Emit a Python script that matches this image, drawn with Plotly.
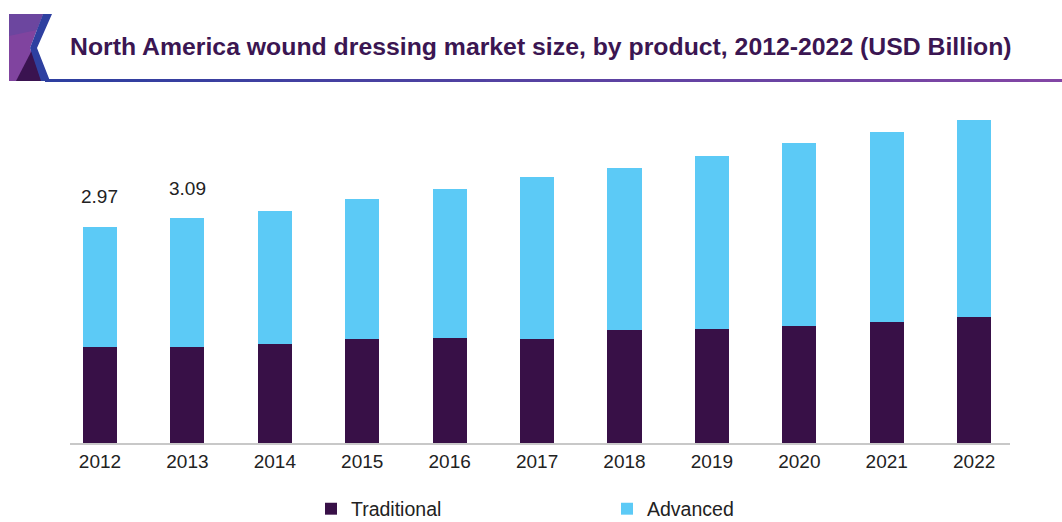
import plotly.graph_objects as go

years = ["2012", "2013", "2014", "2015", "2016", "2017", "2018", "2019", "2020", "2021", "2022"]
traditional = [1.32, 1.32, 1.36, 1.43, 1.44, 1.43, 1.55, 1.57, 1.61, 1.67, 1.73]
advanced = [1.65, 1.77, 1.83, 1.92, 2.05, 2.22, 2.23, 2.38, 2.51, 2.60, 2.71]
label_years = ["2012", "2013"]
label_values = ["2.97", "3.09"]

W, H = 1062, 522
L, R, T, B = 70, 52, 100, 79
PW, PH = W - L - R, H - T - B

def px(x):
    return (x - L) / PW

def py(y):
    return (H - B - y) / PH

TRAD_C = "#381047"
ADV_C = "#5ccaf6"
FONT = "Liberation Sans, Arial, sans-serif"

fig = go.Figure()
fig.add_trace(go.Bar(x=years, y=traditional, name="Traditional", marker_color=TRAD_C,
                     marker_line_width=0, width=0.39))
fig.add_trace(go.Bar(x=years, y=advanced, name="Advanced", marker_color=ADV_C,
                     marker_line_width=0, width=0.39))

totals = [t + a for t, a in zip(traditional, advanced)]
for yr, txt in zip(label_years, label_values):
    i = years.index(yr)
    fig.add_annotation(x=i, y=totals[i], text=txt, showarrow=False, yanchor="middle",
                       yshift=30, font=dict(family=FONT, size=19, color="#222222"))

# title
fig.add_annotation(xref="paper", yref="paper", x=px(68), y=py(46), xanchor="left", yanchor="middle",
                   text="<b>North America wound dressing market size, by product, 2012-2022 (USD Billion)</b>",
                   showarrow=False, font=dict(family=FONT, size=24.8, color="#3b1652"))

shapes = []

def path(pts, close=True):
    s = "M " + " L ".join(f"{px(a)},{py(b)}" for a, b in pts)
    return s + (" Z" if close else "")

# logo
shapes.append(dict(type="path", xref="paper", yref="paper", path=path([(9, 14), (43, 14), (30, 48), (41, 81), (9, 81)]),
                   fillcolor="#80449f", line=dict(width=0), layer="above"))
shapes.append(dict(type="path", xref="paper", yref="paper", path=path([(9, 14), (43, 14), (37, 30), (9, 36)]),
                   fillcolor="#6c469f", line=dict(width=0), layer="above"))
shapes.append(dict(type="path", xref="paper", yref="paper", path=path([(16, 81), (32, 50), (43, 81)]),
                   fillcolor="#3a1350", line=dict(width=0), layer="above"))
shapes.append(dict(type="path", xref="paper", yref="paper",
                   path=path([(43, 14), (52, 14), (37, 48), (50, 81), (41, 81), (30, 48)]),
                   fillcolor="#2e40a0", line=dict(width=0), layer="above"))
# underline gradient
n = 30
x0, x1 = 45, 1062
c0, c1 = (46, 63, 160), (130, 70, 165)
for i in range(n):
    a = x0 + (x1 - x0) * i / n
    b = x0 + (x1 - x0) * (i + 1) / n
    t = i / (n - 1)
    col = "rgb(%d,%d,%d)" % tuple(int(c0[k] + (c1[k] - c0[k]) * t) for k in range(3))
    shapes.append(dict(type="line", xref="paper", yref="paper", x0=px(a), x1=px(b) + 0.001, y0=py(80.5), y1=py(80.5),
                       line=dict(color=col, width=3), layer="above"))

fig.update_layout(
    width=W, height=H,
    margin=dict(l=L, r=R, t=T, b=B),
    barmode="stack",
    plot_bgcolor="white", paper_bgcolor="white",
    font=dict(family=FONT, size=19, color="#222222"),
    shapes=shapes,
    showlegend=True,
    legend=dict(orientation="h", xref="container", yref="container", x=311 / W, y=(H - 509) / H,
                xanchor="left", yanchor="middle",
                font=dict(family=FONT, size=19.5, color="#222222"), entrywidth=251, entrywidthmode="pixels",
                traceorder="normal"),
    xaxis=dict(type="category", range=[-0.343, 10.41], showline=True, linecolor="#c8c8c8", linewidth=2, ticks="",
               showgrid=False, automargin=False, tickfont=dict(family=FONT, size=19, color="#222222"),
               fixedrange=True),
    yaxis=dict(range=[0, 4.715], visible=False, showgrid=False, zeroline=False, fixedrange=True,
               automargin=False),
)

fig.write_html("out.html", config={"displayModeBar": False},
               post_script="document.body.style.margin='0';document.body.style.padding='0';")
